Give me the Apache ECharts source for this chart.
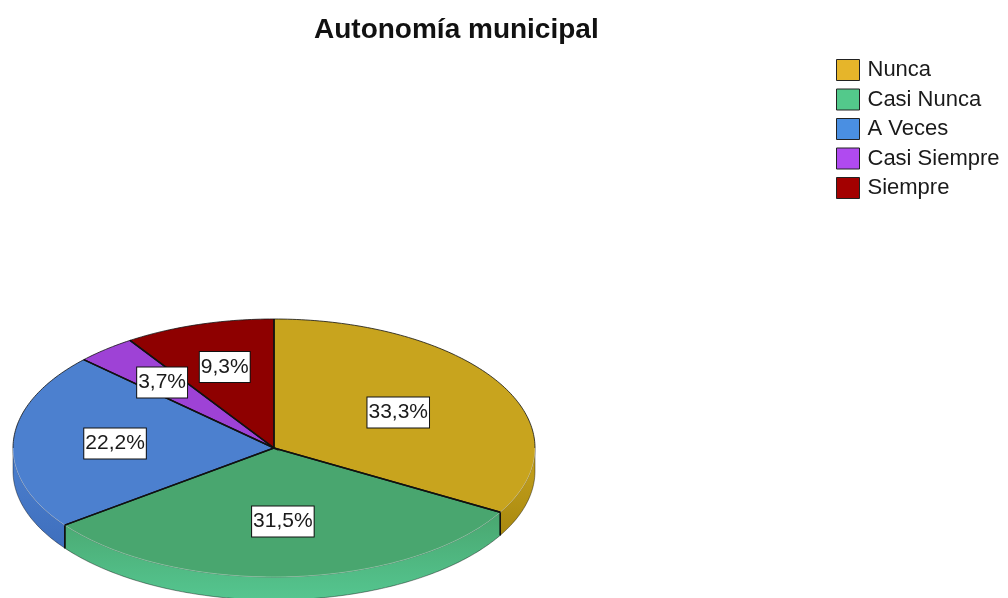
<!DOCTYPE html>
<html>
<head>
<meta charset="utf-8">
<title>Autonomía municipal</title>
<script src="https://cdn.jsdelivr.net/npm/echarts@6/dist/echarts.min.js"></script>
<style>
  html, body { margin: 0; padding: 0; background: #ffffff; }
  #chart { width: 1008px; height: 598px; }
</style>
</head>
<body>
<div id="chart"></div>
<script>
// Survey answers and their share of responses (%)
const categories = ['Nunca', 'Casi Nunca', 'A Veces', 'Casi Siempre', 'Siempre'];
const percents = [33.3, 31.5, 22.2, 3.7, 9.3];

// Styling: legend swatch, top face and side wall colours
const legendColors = ['#e6b52a', '#53c98b', '#4a8fe2', '#b04af0', '#a30000'];
const faceColors   = ['#c8a41e', '#49a66f', '#4c80cf', '#9e42d6', '#8e0000'];
const sideColors   = ['#a8880f', '#55c690', '#3f6fbd', '#7f30b0', '#6a0000'];
// Radial position of each value label (fraction of the radius)
const labelRadius  = [0.55, 0.57, 0.61, 0.665, 0.655];

const DEPTH = 23;           // thickness of the disc in pixels
const total = percents.reduce((a, b) => a + b, 0);
const fmt = v => v.toFixed(1).replace('.', ',') + '%';

function pt(api, a, r) {
  return api.coord([r * Math.sin(a), r * Math.cos(a)]);
}
function arc(api, a0, a1, dy) {
  const pts = [];
  const n = Math.max(2, Math.ceil(Math.abs(a1 - a0) / (Math.PI / 180)));
  for (let k = 0; k <= n; k++) {
    const a = a0 + (a1 - a0) * k / n;
    const p = pt(api, a, 1);
    pts.push([p[0], p[1] + (dy || 0)]);
  }
  return pts;
}

function renderSlice(i, params, api) {
  const before = percents.slice(0, i).reduce((a, b) => a + b, 0);
  const a0 = before / total * Math.PI * 2;
  const a1 = a0 + api.value(0) / total * Math.PI * 2;
  const c = api.coord([0, 0]);
  const children = [];

  // front side wall (angles between 3 o'clock and 9 o'clock through the bottom)
  const f0 = Math.PI / 2, f1 = Math.PI * 3 / 2;
  const s = Math.max(a0, f0), e = Math.min(a1, f1);
  if (s < e) {
    const topArc = arc(api, s, e, 0);
    const botArc = arc(api, s, e, DEPTH);
    children.push({
      type: 'polygon', z2: 1,
      shape: { points: topArc.concat(botArc.slice().reverse()) },
      style: {
        fill: new echarts.graphic.LinearGradient(0, 0, 0, 1, [
          { offset: 0, color: faceColors[i] },
          { offset: 1, color: sideColors[i] }
        ]),
        stroke: 'rgba(0,0,0,0.4)', lineWidth: 1
      }
    });
    [a0, a1].forEach(a => {
      if (a > f0 && a < f1) {
        const p = pt(api, a, 1);
        children.push({
          type: 'line', z2: 2,
          shape: { x1: p[0], y1: p[1], x2: p[0], y2: p[1] + DEPTH },
          style: { stroke: '#111', lineWidth: 1.3 }
        });
      }
    });
  }

  // top face
  const faceArc = arc(api, a0, a1, 0);
  children.push({
    type: 'polygon', z2: 5,
    shape: { points: [c].concat(faceArc) },
    style: { fill: faceColors[i] }
  });
  // dividing lines from the centre
  children.push({
    type: 'polyline', z2: 7,
    shape: { points: [faceArc[0], c, faceArc[faceArc.length - 1]] },
    style: { stroke: '#111', lineWidth: 1.4, fill: null }
  });
  // rim: dark along the back half, soft highlight along the front half
  const rims = [[a0, Math.min(a1, f0), 'rgba(20,20,20,0.8)'],
                [Math.max(a0, f0), Math.min(a1, f1), 'rgba(255,255,255,0.3)'],
                [Math.max(a0, f1), a1, 'rgba(20,20,20,0.8)']];
  rims.forEach(r => {
    if (r[0] < r[1]) {
      children.push({
        type: 'polyline', z2: 6,
        shape: { points: arc(api, r[0], r[1], 0) },
        style: { stroke: r[2], lineWidth: 1, fill: null }
      });
    }
  });

  // value label
  const mid = (a0 + a1) / 2;
  const lp = pt(api, mid, labelRadius[i]);
  children.push({
    type: 'text', z2: 10,
    x: lp[0], y: lp[1],
    style: {
      text: fmt(api.value(0)),
      fill: '#1a1a1a',
      font: '21px "Liberation Sans", Arial, sans-serif',
      align: 'center', verticalAlign: 'middle',
      backgroundColor: '#ffffff',
      borderColor: '#111', borderWidth: 1,
      padding: [5, 1, 4, 1]
    }
  });

  return { type: 'group', children: children };
}

const chart = echarts.init(document.getElementById('chart'), null, { renderer: 'canvas' });

chart.setOption({
  backgroundColor: '#ffffff',
  animation: false,
  title: {
    text: 'Autonomía municipal',
    left: 314, top: 16, padding: 0,
    textStyle: {
      fontFamily: '"Liberation Sans", Arial, sans-serif',
      fontSize: 28, fontWeight: 'bold', color: '#111'
    }
  },
  legend: {
    orient: 'vertical',
    left: 836, top: 59, padding: 0,
    icon: 'rect',
    itemWidth: 23, itemHeight: 21, itemGap: 7.5,
    itemStyle: { borderColor: '#222', borderWidth: 1 },
    selectedMode: false,
    textStyle: {
      fontFamily: '"Liberation Sans", Arial, sans-serif',
      fontSize: 22, color: '#1a1a1a', padding: [0, 0, 0, 3]
    },
    data: categories
  },
  grid: { left: 13, top: 319, width: 522, height: 258 },
  xAxis: { type: 'value', min: -1, max: 1, show: false },
  yAxis: { type: 'value', min: -1, max: 1, show: false },
  series: categories.map((name, i) => ({
    type: 'custom',
    name: name,
    coordinateSystem: 'cartesian2d',
    itemStyle: { color: legendColors[i] },
    data: [[percents[i]]],
    encode: { x: -1, y: -1 },
    clip: false,
    renderItem: (params, api) => renderSlice(i, params, api)
  }))
});
</script>
</body>
</html>
